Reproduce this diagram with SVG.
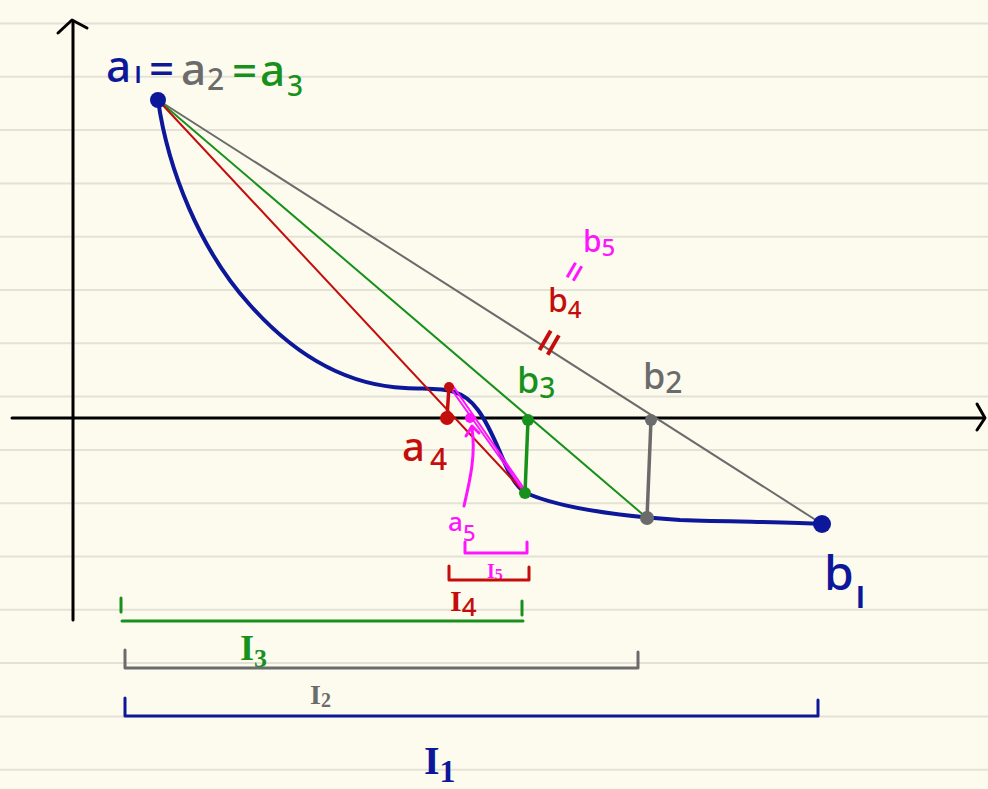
<svg xmlns="http://www.w3.org/2000/svg" width="988" height="789" viewBox="0 0 988 789">
<style>
.rule{stroke:#e4e2d6;stroke-width:2}
.ax{stroke:#000;stroke-width:3;fill:none;stroke-linecap:round;stroke-linejoin:round}
.t{font-family:"Noto Sans","DejaVu Sans",sans-serif;font-weight:500}
.i{font-family:"Liberation Serif","DejaVu Serif",serif;font-weight:bold}
.blue{fill:#0c179a}.gray{fill:#6b6b6b}.green{fill:#17911c}.red{fill:#c40d0d}.mag{fill:#ff14ff}
.sb{stroke:#0c179a}.sg{stroke:#6b6b6b}.sgr{stroke:#17911c}.sr{stroke:#c40d0d}.sm{stroke:#ff14ff}
.ln{fill:none;stroke-width:2;stroke-linecap:round}
.br{fill:none;stroke-width:3;stroke-linecap:round;stroke-linejoin:round}
</style>
<rect width="988" height="789" fill="#fdfbee"/>
<g id="ruling">
<line class="rule" x1="0" y1="23.5" x2="988" y2="23.5"/>
<line class="rule" x1="0" y1="76.8" x2="988" y2="76.8"/>
<line class="rule" x1="0" y1="130.1" x2="988" y2="130.1"/>
<line class="rule" x1="0" y1="183.4" x2="988" y2="183.4"/>
<line class="rule" x1="0" y1="236.7" x2="988" y2="236.7"/>
<line class="rule" x1="0" y1="290" x2="988" y2="290"/>
<line class="rule" x1="0" y1="343.3" x2="988" y2="343.3"/>
<line class="rule" x1="0" y1="396.6" x2="988" y2="396.6"/>
<line class="rule" x1="0" y1="449.9" x2="988" y2="449.9"/>
<line class="rule" x1="0" y1="503.2" x2="988" y2="503.2"/>
<line class="rule" x1="0" y1="556.5" x2="988" y2="556.5"/>
<line class="rule" x1="0" y1="609.8" x2="988" y2="609.8"/>
<line class="rule" x1="0" y1="663.1" x2="988" y2="663.1"/>
<line class="rule" x1="0" y1="716.4" x2="988" y2="716.4"/>
<line class="rule" x1="0" y1="769.7" x2="988" y2="769.7"/>
</g>
<g id="axes">
<path class="ax" d="M73,620 L73,21"/>
<path class="ax" d="M58,33 L72,20 L87,28"/>
<path class="ax" d="M12,418 L984,418"/>
<path class="ax" d="M977,404 L985,418 L977,430"/>
</g>
<g id="connectors">
<path id="curve-f" d="M158,100 C168,170 200,250 250,305 C290,350 340,385 405,388 C440,390 460,385 478,410 C500,440 505,480 526,493 C560,508 620,516 680,520 C740,522 790,522 822,524" fill="none" stroke="#0c179a" stroke-width="4" stroke-linecap="round"/>
<line class="ln sg" x1="158" y1="100" x2="822" y2="524"/>
<line class="ln sgr" x1="158" y1="100" x2="647" y2="518"/>
<line class="ln sr" x1="158" y1="100" x2="525" y2="493"/>
<line class="ln sm" x1="449" y1="386" x2="525" y2="493"/>
<line class="ln sm" x1="453" y1="386" x2="525" y2="490"/>
<path d="M651,420 L647,518" fill="none" stroke="#6b6b6b" stroke-width="3.5"/>
<path d="M528,420 L525,493" fill="none" stroke="#17911c" stroke-width="3.5"/>
<path d="M447,418 L449,386" fill="none" stroke="#c40d0d" stroke-width="3.5"/>
<path d="M464,506 C470,480 476,455 472,428 M466,436 L472,426 L479,433" fill="none" stroke="#ff14ff" stroke-width="3" stroke-linecap="round" stroke-linejoin="round"/>
</g>
<g id="a1">
<circle cx="158" cy="100" r="8" class="blue"/>
<text class="t" font-size="44" y="82"><tspan x="106" class="blue">a</tspan><tspan x="134" font-size="30" y="83" class="blue">ı</tspan><tspan x="149" y="84" class="blue">=</tspan><tspan x="181" y="85" class="gray">a</tspan><tspan x="207" y="90" font-size="30" class="gray">2</tspan><tspan x="232" y="86" class="green">=</tspan><tspan x="260" y="86" class="green">a</tspan><tspan x="287" y="96" font-size="28" class="green">3</tspan></text>
</g>
<g id="b1">
<circle cx="822" cy="524" r="9" class="blue"/>
<text class="t blue" font-size="48" x="824" y="590">b</text>
<text class="t blue" font-size="40" x="855" y="608">ı</text>
</g>
<g id="b2">
<circle cx="651" cy="420" r="6" class="gray"/>
<circle cx="647" cy="518" r="7" class="gray"/>
<text class="t gray" font-size="36" x="643" y="389">b<tspan font-size="30" y="393">2</tspan></text>
</g>
<g id="b3">
<circle cx="528" cy="420" r="6" class="green"/>
<circle cx="525" cy="493" r="6" class="green"/>
<text class="t green" font-size="36" x="517" y="393">b<tspan font-size="28" y="398">3</tspan></text>
</g>
<g id="a4">
<circle cx="447" cy="418" r="7" class="red"/>
<circle cx="449" cy="387" r="5" class="red"/>
<text class="t red" font-size="40" x="402" y="461">a<tspan font-size="30" x="430" y="470">4</tspan></text>
</g>
<g id="a5">
<circle cx="470" cy="418" r="5" class="mag"/>
<text class="t mag" font-size="26" x="448" y="531">a<tspan font-size="22" y="541">5</tspan></text>
</g>
<g id="b4">
<text class="t red" font-size="32" x="548" y="312">b<tspan font-size="24" y="318">4</tspan></text>
<text class="t red" font-size="48" transform="translate(550,343) rotate(-60)" text-anchor="middle" y="16">=</text>
</g>
<g id="b5">
<text class="t mag" font-size="30" x="583" y="252">b<tspan font-size="24" y="256">5</tspan></text>
<text class="t mag" font-size="36" transform="translate(575,272) rotate(-60)" text-anchor="middle" y="12">=</text>
</g>
<g id="I5">
<path class="br sm" d="M465,542 L465,553 L527,553 L527,542"/>
<text class="i mag" font-size="20" x="487" y="578">I<tspan font-size="16" y="580">5</tspan></text>
</g>
<g id="I4">
<path class="br sr" d="M449,566 L449,580 L529,580 L529,567"/>
<text class="i red" font-size="30" x="450" y="611">I<tspan class="t" font-size="26" y="616">4</tspan></text>
</g>
<g id="I3">
<path class="br sgr" d="M122,621 L523,621 M121,598 L121,612 M522,601 L522,615"/>
<text class="i green" font-size="36" x="240" y="660">I<tspan font-size="26" y="667">3</tspan></text>
</g>
<g id="I2">
<path class="br sg" d="M125,650 L125,668 L638,668 L638,652"/>
<text class="i gray" font-size="28" x="310" y="704">I<tspan font-size="20" y="707">2</tspan></text>
</g>
<g id="I1">
<path class="br sb" d="M125,698 L125,716 L818,716 L818,700"/>
<text class="i blue" font-size="40" x="424" y="774">I<tspan font-size="32" y="782">1</tspan></text>
</g>
</svg>
